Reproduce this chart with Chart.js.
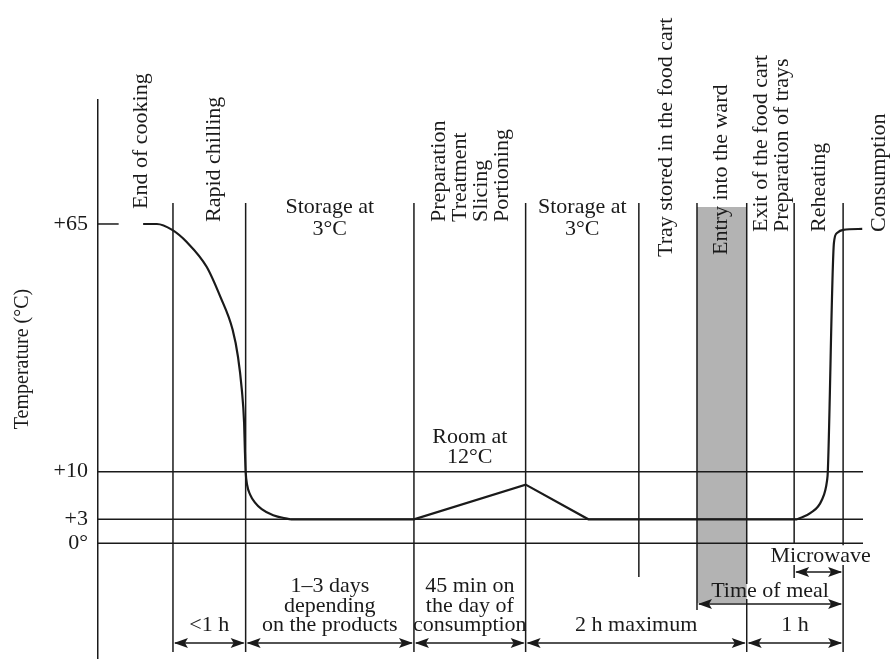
<!DOCTYPE html>
<html>
<head>
<meta charset="utf-8">
<title>Cook-chill temperature chart</title>
<script src="https://cdn.jsdelivr.net/npm/chart.js"></script>
<style>
  html, body { margin: 0; padding: 0; background: #fff; }
  #wrap { width: 891px; height: 659px; }
</style>
</head>
<body>
<div id="wrap"><canvas id="chart"></canvas></div>
<script>
// process axis has no unit: 0 = temperature axis, 100 = end of the limit lines
const stepX = [9.8, 19.3, 41.3, 55.9, 70.7, 78.3, 84.8, 91.0, 97.4]

const tickTemps = [0, 3, 10, 65]
const tickLabels = ['0°', '+3', '+10', '+65']
const limitTemps = [0, 3, 10]

// rapid chilling after cooking
const chillX = [5.9, 7.7, 9.7, 11.6, 14.2, 16.0, 17.6, 18.3, 18.8, 19.1, 19.2, 19.3, 19.5, 19.9, 20.5, 21.4, 22.9, 24.7, 25.2]
const chillT = [65, 65, 63.7, 61.0, 55.5, 48.8, 41.5, 35.5, 28.2, 20.8, 14.8, 10, 8.0, 6.6, 5.5, 4.5, 3.6, 3.1, 3]
// storage, room at 12°C, storage again
const holdX = [25.2, 41.3, 55.9, 64.1, 91.4]
const holdT = [3, 3, 8.1, 3, 3]
// microwave reheating
const reheatX = [91.4, 93.1, 94.6, 95.3, 95.4, 96.2, 96.6, 97.4, 99.9]
const reheatT = [3, 3.9, 5.8, 8.7, 10, 60.8, 63.0, 63.7, 63.9]

const stageNames = [
    ['End of cooking'], ['Rapid chilling'],
    ['Preparation', 'Treatment', 'Slicing', 'Portioning'],
    ['Tray stored in the food cart'], ['Entry into the ward'],
    ['Exit of the food cart', 'Preparation of trays'],
    ['Reheating'], ['Consumption']
]
const roomNames = [['Storage at', '3°C'], ['Room at', '12°C'], ['Storage at', '3°C']]
const durations = [['<1 h'], ['1–3 days', 'depending', 'on the products'], ['45 min on', 'the day of', 'consumption'], ['2 h maximum'], ['1 h']]
const durationSpans = [[0, 1], [1, 2], [2, 3], [3, 6], [6, 8]]
const mealSpan = [5, 8]
const microwaveSpan = [7, 8]

// the temperature axis is drawn out of scale: each stretch has its own length
const tempKnots = [[0, 0.207], [3, 0.2499], [10, 0.3351], [65, 0.7782]]

class StepScale extends Chart.LinearScale {
    getPixelForValue(value) {
        let i = 1
        while (i < tempKnots.length - 1 && value > tempKnots[i][0]) i++
        const [t0, d0] = tempKnots[i - 1]
        const [t1, d1] = tempKnots[i]
        return this.getPixelForDecimal(d0 + (value - t0) * (d1 - d0) / (t1 - t0))
    }
}
StepScale.id = 'steps'
StepScale.defaults = Chart.LinearScale.defaults
Chart.register(StepScale)

const ink = '#1a1a1a'
const font = '22px "Liberation Serif"'

let points = (xs, ts) => xs.map((x, i) => ({x: x, y: ts[i]}))

let vline = (ctx, x, y0, y1) => {
    ctx.beginPath()
    ctx.moveTo(x, y0)
    ctx.lineTo(x, y1)
    ctx.stroke()
}

let head = (ctx, x, y, dir) => {
    ctx.beginPath()
    ctx.moveTo(x, y)
    ctx.lineTo(x + dir * 14, y - 5)
    ctx.lineTo(x + dir * 11, y)
    ctx.lineTo(x + dir * 14, y + 5)
    ctx.closePath()
    ctx.fill()
}

let arrow = (ctx, x0, x1, y) => {
    ctx.beginPath()
    ctx.moveTo(x0 + 2, y)
    ctx.lineTo(x1 - 2, y)
    ctx.stroke()
    head(ctx, x0 + 1, y, 1)
    head(ctx, x1 - 1, y, -1)
}

let upText = (ctx, lines, x, y) => {
    ctx.save()
    ctx.translate(x, y)
    ctx.rotate(-Math.PI / 2)
    ctx.textAlign = 'left'
    ctx.textBaseline = 'alphabetic'
    lines.forEach((line, i) => ctx.fillText(line, 0, i * 21))
    ctx.restore()
}

const diagram = {
    id: 'diagram',
    beforeDatasetsDraw(chart) {
        const {ctx, chartArea: a, scales: {x, y}} = chart
        const px = i => x.getPixelForValue(stepX[i])
        const top = a.top + 103
        const low = a.bottom - 7
        const zero = y.getPixelForValue(0)
        ctx.save()
        // ward entry band
        ctx.fillStyle = '#b3b3b3'
        ctx.fillRect(px(5), a.top + 107, px(6) - px(5), a.bottom - 56 - a.top - 107)
        // phase boundaries
        ctx.strokeStyle = ink
        ctx.lineWidth = 1.5
        const cuts = [
            [[top, low]], [[top, low]], [[top, low]], [[top, low]],
            [[top, a.bottom - 82]],
            [[top, a.bottom - 49]],
            [[top, a.bottom - 75], [a.bottom - 60, low]],
            [[top, zero], [a.bottom - 94, a.bottom - 81]],
            [[top, zero + 2], [a.bottom - 94, low]]
        ]
        cuts.forEach((parts, i) => parts.forEach(p => vline(ctx, px(i), p[0], p[1])))
        ctx.restore()
    },
    afterDatasetsDraw(chart) {
        const {ctx, chartArea: a, scales: {x, y}} = chart
        const px = i => x.getPixelForValue(stepX[i])
        ctx.save()
        ctx.fillStyle = ink
        ctx.strokeStyle = ink
        ctx.lineWidth = 1.5
        ctx.font = font

        // stage names, read upwards
        const stageAt = [[6.4, 109], [15.9, 122], [45.4, 122], [75.0, 157], [82.2, 155], [87.5, 132], [95.0, 132], [102.9, 132]]
        stageNames.forEach((lines, i) => upText(ctx, lines, x.getPixelForValue(stageAt[i][0]), a.top + stageAt[i][1]))

        ctx.textAlign = 'center'
        ctx.textBaseline = 'alphabetic'
        // storage / room captions
        const roomSpans = [[1, 2], [2, 3], [3, 4]]
        roomNames.forEach((lines, i) => {
            const cx = (px(roomSpans[i][0]) + px(roomSpans[i][1])) / 2
            const base = i === 1 ? y.getPixelForValue(10) - 29 : a.top + 113
            const step = i === 1 ? 20 : 22
            lines.forEach((line, j) => ctx.fillText(line, cx, base + j * step))
        })

        // durations along the bottom
        durations.forEach((lines, i) => {
            const [s, e] = durationSpans[i]
            const cx = (px(s) + px(e)) / 2
            lines.forEach((line, j) => ctx.fillText(line, cx, a.bottom - 28 - (lines.length - 1 - j) * 19.5))
            arrow(ctx, px(s), px(e), a.bottom - 16)
        })
        ctx.fillText('Time of meal', (px(mealSpan[0]) + px(mealSpan[1])) / 2, a.bottom - 62)
        arrow(ctx, px(mealSpan[0]), px(mealSpan[1]), a.bottom - 55)
        ctx.fillText('Microwave', (px(microwaveSpan[0]) + px(microwaveSpan[1])) / 2 + 2, a.bottom - 97)
        arrow(ctx, px(microwaveSpan[0]), px(microwaveSpan[1]), a.bottom - 87)

        // axis title
        ctx.font = '20px "Liberation Serif"'
        ctx.translate(28, 359)
        ctx.rotate(-Math.PI / 2)
        ctx.fillText('Temperature (°C)', 0, 0)
        ctx.restore()
    }
}

const line = (data, width, tension) => ({
    data: data,
    borderColor: ink,
    borderWidth: width,
    pointRadius: 0,
    fill: false,
    tension: tension,
    cubicInterpolationMode: tension ? 'monotone' : 'default'
})

new Chart(document.querySelector('#chart').getContext('2d'), {
    type: 'line',
    data: {
        datasets: [
            ...limitTemps.map(t => line([{x: 0, y: t}, {x: 100, y: t}], 1.5, 0)),
            line([{x: 0, y: 65}, {x: 2.7, y: 65}], 1.5, 0),
            line(points(chillX, chillT), 2.2, 0.4),
            line(points(holdX, holdT), 2.2, 0),
            line(points(reheatX, reheatT), 2.2, 0.4)
        ]
    },
    options: {
        responsive: true,
        maintainAspectRatio: false,
        animation: false,
        layout: {padding: {top: 100, right: 28, bottom: 0, left: 0}},
        plugins: {legend: {display: false}, tooltip: {enabled: false}},
        scales: {
            x: {type: 'linear', min: 0, max: 100, display: false},
            y: {
                type: 'steps',
                min: -15,
                max: 95,
                afterBuildTicks: s => { s.ticks = tickTemps.map(v => ({value: v})) },
                afterFit: s => {
                    s.width = 98
                    s.paddingTop = 0
                    s.paddingBottom = 0
                },
                ticks: {
                    autoSkip: false,
                    padding: 10,
                    color: ink,
                    font: {family: 'Liberation Serif', size: 22},
                    callback: (v, i) => tickLabels[i]
                },
                grid: {display: false, drawTicks: false},
                border: {display: true, color: ink, width: 1.5}
            }
        }
    },
    plugins: [diagram]
})
</script>
</body>
</html>
